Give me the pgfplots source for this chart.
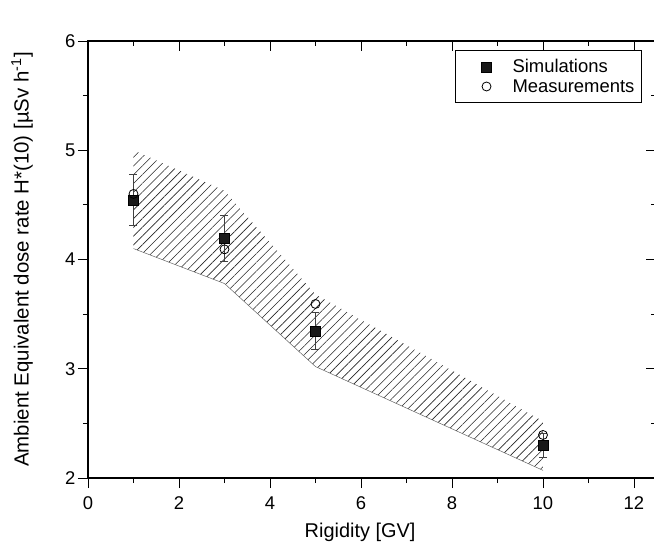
\documentclass[border=0pt]{standalone}
\usepackage{pgfplots}
\pgfplotsset{compat=1.18}
\usepackage{fontspec}
\setmainfont{Liberation Sans}
\usetikzlibrary{patterns.meta}
\pgfplotsset{myleg/.style={legend image code/.code={\path[draw=none,fill=none] (0bp,-1bp) rectangle (50bp,1bp); \draw[##1] plot[only marks] coordinates {(26bp,0bp)};}}}
\begin{document}
\begin{tikzpicture}
\begin{axis}[
  name=ax, at={(0,0)}, anchor=south west,
  scale only axis, width=568bp, height=437bp,
  xmin=0, xmax=12.484, ymin=2, ymax=6,
  xtick={0,2,4,6,8,10,12}, minor x tick num=1,
  ytick={2,3,4,5,6}, minor y tick num=1,
  xtick pos=left, ytick pos=left,
  tick align=outside,
  major tick length=10bp, minor tick length=5bp,
  every tick/.style={line width=0.9bp, black},
  axis line style={line width=1.1bp},
  /pgf/number format/assume math mode=true,
  ticklabel style={font=\fontsize{18.5}{20}\selectfont},
  xticklabel style={yshift=-5bp},
  yticklabel style={xshift=1bp},
  every axis x label/.style={at={(axis description cs:0.479,-0.124)}, anchor=center, font=\fontsize{20}{23}\selectfont},
  every axis y label/.style={at={(axis description cs:-0.116,0.5)}, anchor=center, rotate=90, font=\fontsize{20.5}{23}\selectfont},
  xlabel={Rigidity [GV]},
  ylabel={Ambient Equivalent dose rate H*(10) [µSv h\textsuperscript{-1}]},
  legend style={at={(axis description cs:0.975,0.979)}, anchor=north east, draw=black, line width=0.8bp, font=\fontsize{18.5}{20}\selectfont, row sep=1bp, inner xsep=5bp, inner ysep=7bp},
  legend cell align=left,
]
\addplot[draw=none, forget plot, pattern={Lines[angle=45,distance=6.2bp,line width=0.6bp]}, pattern color=black!85]
  coordinates {(1,5.0) (3,4.63) (5,3.68) (10,2.52) (10,2.07) (5,3.02) (3,3.78) (1,4.1)} -- cycle;
\addplot[forget plot, black!60, line width=0.5bp] coordinates {(1,4.1) (3,3.78) (5,3.02) (10,2.07)};
\addplot[only marks, myleg, mark=square*, mark size=5bp, mark options={fill=black!90, draw=black, line width=0.5bp},
  error bars/.cd, y dir=both, y explicit,
  error bar style={line width=0.8bp, black!75},
  error mark options={rotate=90, mark size=4bp, line width=0.8bp, black!75}]
  coordinates {(1,4.545) +- (0,0.23) (3,4.194) +- (0,0.21) (5,3.345) +- (0,0.17) (10,2.302) +- (0,0.11)};
\addlegendentry{Simulations}
\addplot[only marks, myleg, mark=o, mark size=4.5bp, mark options={fill=white, draw=black, line width=0.8bp}]
  coordinates {(1,4.60) (3,4.093) (5,3.593) (10,2.394)};
\addlegendentry{Measurements}
\node[font=\fontsize{19}{21}\selectfont] at (axis description cs:0.496,1.06) {2002};
\end{axis}
\begin{axis}[
  at={(0,0)}, anchor=south west,
  scale only axis, width=568bp, height=437bp,
  xmin=0, xmax=12.484, ymin=2, ymax=6,
  xtick={0,2,4,6,8,10,12}, minor x tick num=1,
  ytick={2,3,4,5,6}, minor y tick num=1,
  axis x line*=top, axis y line*=right,
  tick align=inside,
  major tick length=10bp, minor tick length=5bp,
  every tick/.style={line width=0.9bp, black},
  axis line style={line width=1.1bp},
  xticklabels={}, yticklabels={},
]
\end{axis}
\pgfresetboundingbox
\useasboundingbox (-88bp,-67bp) rectangle (566bp,478bp);
\end{tikzpicture}
\end{document}
